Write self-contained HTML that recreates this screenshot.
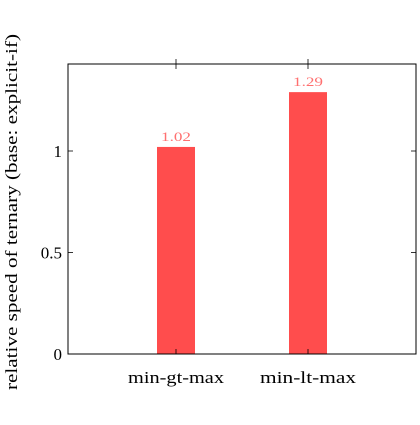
<!DOCTYPE html>
<html><head><meta charset="utf-8"><style>
body{margin:0;background:#fff}
svg{font-family:"Liberation Serif","DejaVu Serif",serif}
</style></head><body>
<svg width="420" height="420" viewBox="0 0 420 420">
<g id="plot"></g>
</svg>
<script>
const categories = ["min-gt-max","min-lt-max"];
const values = [1.02,1.29];
const valueLabels = ["1.02","1.29"];
const yTicks = [0,0.5,1];
const yTickLabels = ["0","0.5","1"];

const NS="http://www.w3.org/2000/svg";
const g=document.getElementById('plot');
const L=68,R=416,T=64,B=354;
const catX=[176,308];
function x(i){return catX[i];}
function y(v){return B-v*203;}
function mk(tag,attrs,text){const e=document.createElementNS(NS,tag);for(const k in attrs)e.setAttribute(k,attrs[k]);if(text!==undefined)e.textContent=text;g.appendChild(e);return e;}

values.forEach((v,i)=>{
  const r=mk('rect',{x:x(i)-19,y:y(v),width:38,height:B-y(v),fill:'#ff4d4d'});
  
  
  const t=mk('text',{x:x(i),y:y(v)-6,'text-anchor':'middle','font-size':13,fill:'#ff7070',textLength:30,lengthAdjust:'spacingAndGlyphs'},valueLabels[i]);
  
  
  const c=mk('text',{x:x(i),y:B+29,'text-anchor':'middle','font-size':17,fill:'#000',textLength:96,lengthAdjust:'spacingAndGlyphs'},categories[i]);
  
  
  mk('line',{x1:x(i),x2:x(i),y1:B,y2:B-5,stroke:'#000','stroke-width':0.8});
  mk('line',{x1:x(i),x2:x(i),y1:T,y2:T+5,stroke:'#000','stroke-width':0.8});
  mk('line',{x1:x(i),x2:x(i),y1:T,y2:T-5,stroke:'#000','stroke-width':0.8});
});
yTicks.forEach((v,i)=>{
  mk('line',{x1:L,x2:L+5,y1:y(v),y2:y(v),stroke:'#000','stroke-width':0.8});
  mk('line',{x1:R,x2:R-5,y1:y(v),y2:y(v),stroke:'#000','stroke-width':0.8});
  const t=mk('text',{x:L-6,y:y(v)+6,'text-anchor':'end','font-size':17,fill:'#000'},yTickLabels[i]);
  
  
});
const ax=mk('rect',{x:L,y:T,width:R-L,height:B-T,fill:'none',stroke:'#000','stroke-width':1});


const yl=mk('text',{x:0,y:0,transform:'translate(17,212) rotate(-90)','text-anchor':'middle','font-size':17,fill:'#000',textLength:356,lengthAdjust:'spacingAndGlyphs'},'relative speed of ternary (base: explicit-if)');


</script>
</body></html>
